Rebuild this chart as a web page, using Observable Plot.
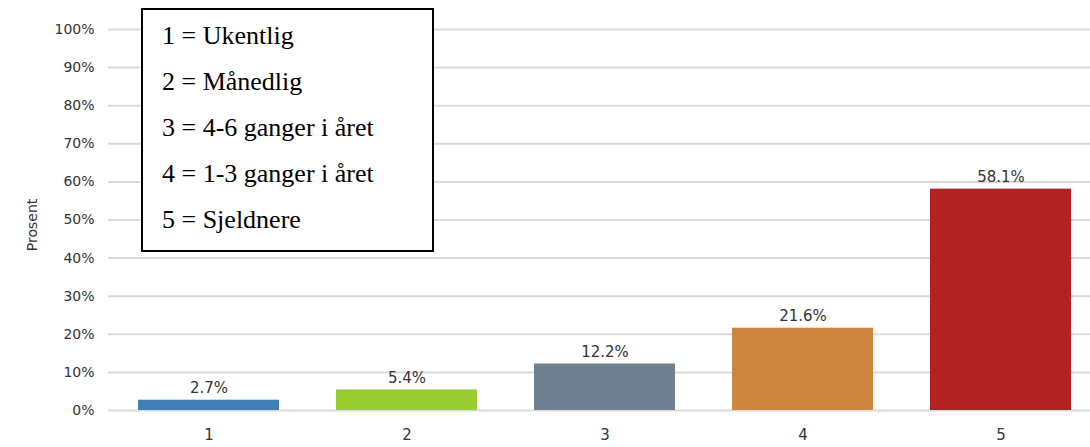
<!DOCTYPE html>
<html>
<head>
<meta charset="utf-8">
<script src="https://cdn.jsdelivr.net/npm/d3@7"></script>
<script src="https://cdn.jsdelivr.net/npm/@observablehq/plot@0.6"></script>
<style>
  html, body { margin: 0; padding: 0; background: #fff; }
  #wrap { position: relative; width: 1090px; height: 447px; }
  #legend {
    position: absolute; left: 141px; top: 8px; width: 293px; height: 244px;
    box-sizing: border-box; border: 2px solid #000; background: #fff;
    padding: 3px 0 0 19px;
    font-family: "Liberation Serif", "Times New Roman", serif; font-size: 26px; line-height: 46px; color: #000;
  }
  #legend div { white-space: nowrap; }
</style>
</head>
<body>
<div id="wrap"><div id="chart"></div><div id="legend"></div></div>
<script>
const categories = ["1", "2", "3", "4", "5"];
const values = [2.7, 5.4, 12.2, 21.6, 58.1];
const valueLabels = ["2.7%", "5.4%", "12.2%", "21.6%", "58.1%"];
const colors = ["#4180b6", "#9acd32", "#708090", "#cd853f", "#b22222"];
const yTicks = [0, 10, 20, 30, 40, 50, 60, 70, 80, 90, 100];
const yTitle = ["Prosent"];
const legendItems = ["1 = Ukentlig", "2 = Månedlig", "3 = 4-6 ganger i året", "4 = 1-3 ganger i året", "5 = Sjeldnere"];

const data = categories.map((c, i) => ({cat: c, value: values[i], label: valueLabels[i], color: colors[i]}));

const chart = Plot.plot({
  width: 1090,
  height: 447,
  marginLeft: 108,
  marginRight: 0,
  marginTop: 29,
  marginBottom: 37,
  style: {fontFamily: "'DejaVu Sans', sans-serif", fontSize: "14px", color: "#333", background: "#fff"},
  x: {domain: categories, range: [108, 1100], paddingInner: 0.29, paddingOuter: 0.145},
  y: {domain: [0, 100]},
  color: {type: "identity"},
  marks: [
    Plot.ruleY(yTicks, {stroke: "#d9d9d9", strokeWidth: 2}),
    Plot.barY(data, {x: "cat", y: "value", fill: "color"}),
    Plot.text(data, {x: "cat", y: "value", text: "label", lineAnchor: "bottom", dy: -7, fontSize: 15, fill: "#333"}),
    Plot.axisY({ticks: yTicks, tickSize: 0, tickPadding: 14, fontSize: 14, tickFormat: d => d + "%", label: null}),
    Plot.text(yTitle, {text: d => d, frameAnchor: "left", textAnchor: "middle", rotate: -90, dx: -76, dy: 5, fontSize: 14, fill: "#333"}),
    Plot.axisX({tickSize: 0, tickPadding: 19, fontSize: 15, label: null})
  ]
});
document.getElementById("chart").appendChild(chart);

const legend = document.getElementById("legend");
legendItems.forEach(t => { const d = document.createElement("div"); d.textContent = t; legend.appendChild(d); });
</script>
</body>
</html>
